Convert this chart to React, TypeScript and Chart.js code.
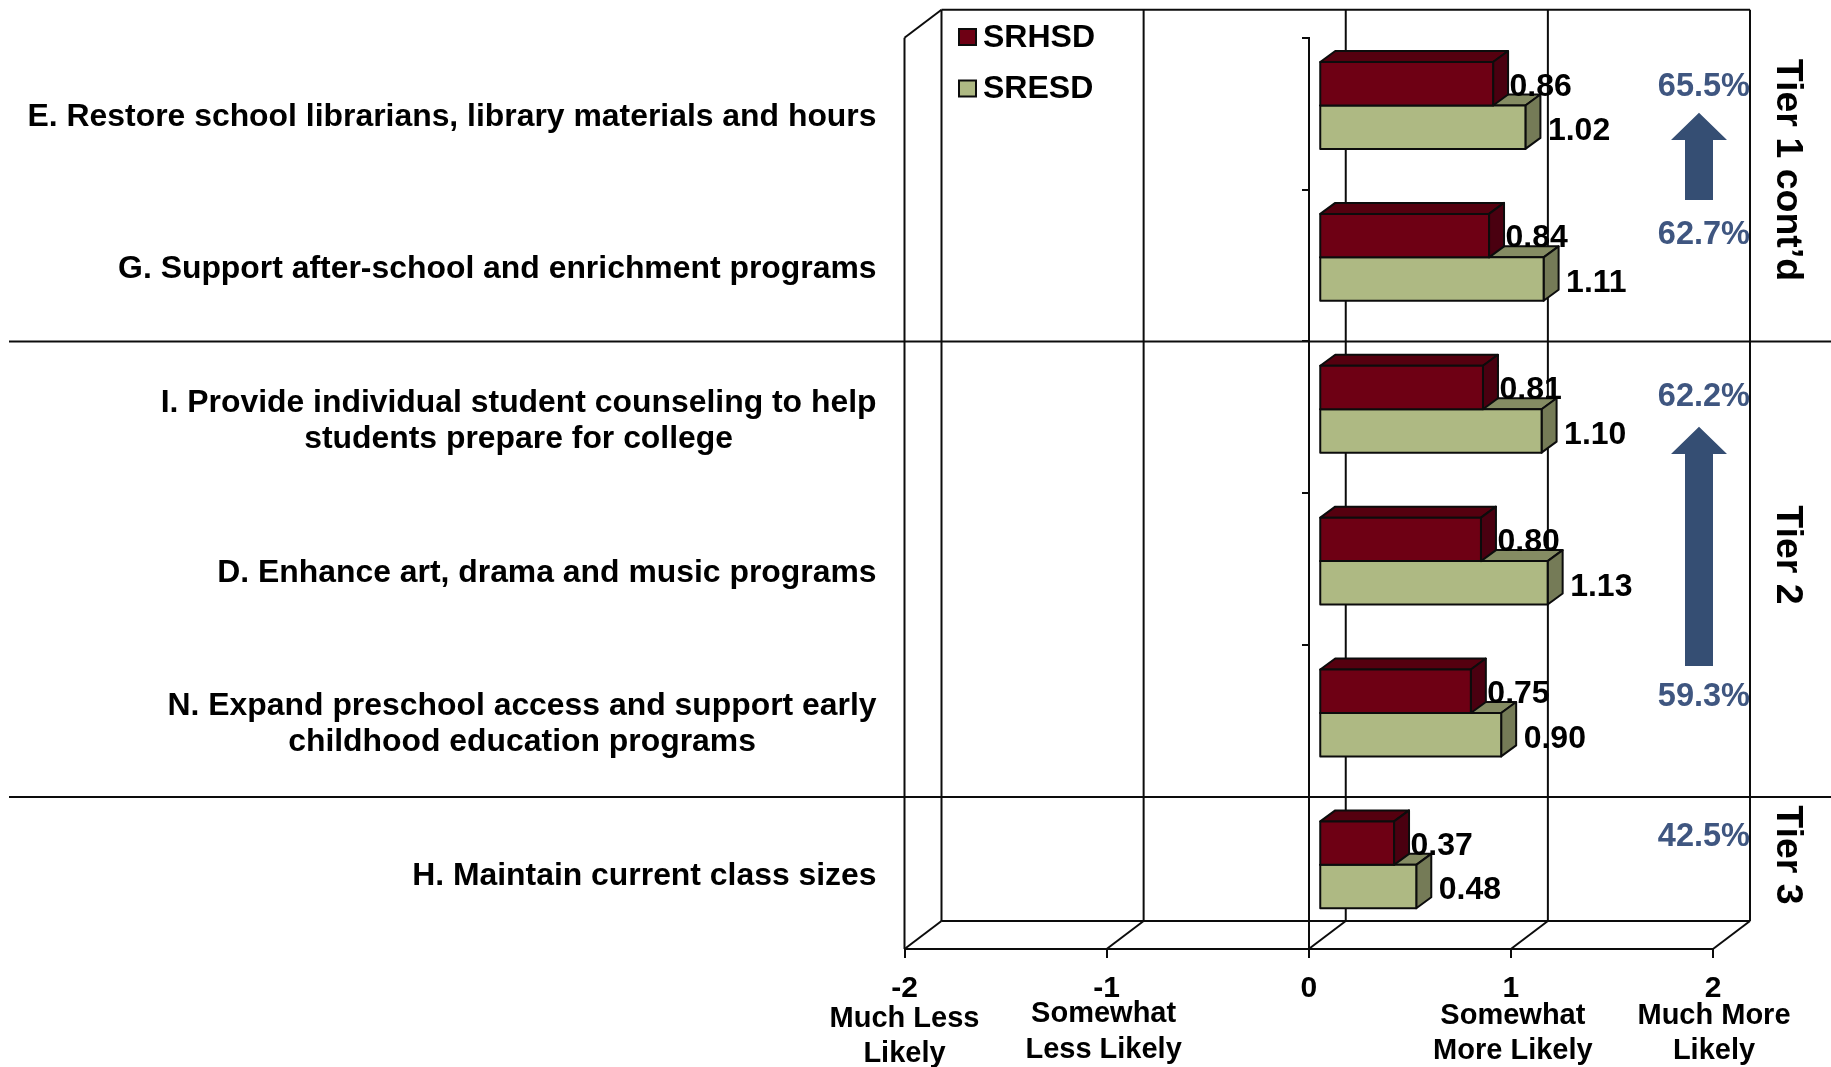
import React, { useEffect, useRef } from "react";
import { Chart, registerables } from "chart.js";

Chart.register(...registerables);

const FONT = '"Liberation Sans", Arial, sans-serif';

const categories: string[][] = [
  ["E. Restore school librarians, library materials and hours"],
  ["G. Support after-school and enrichment programs"],
  ["I. Provide individual student counseling to help", "students prepare for college"],
  ["D. Enhance art, drama and music programs"],
  ["N. Expand preschool access and support early", "childhood education programs"],
  ["H. Maintain current class sizes"],
];
const srhsd = [0.86, 0.84, 0.81, 0.8, 0.75, 0.37];
const sresd = [1.02, 1.11, 1.1, 1.13, 0.9, 0.48];
const percents = ["65.5%", "62.7%", "62.2%", "59.3%", "42.5%"];
const percentY = [87, 235, 397, 697, 837];
const tiers = ["Tier 1 cont\u2019d", "Tier 2", "Tier 3"];
const tierY = [170, 555, 855];
const axisNotes: { v: number; dx: number; lines: [string, number][] }[] = [
  { v: -2, dx: 0, lines: [["Much Less", 1019], ["Likely", 1054]] },
  { v: -1, dx: -3, lines: [["Somewhat", 1014], ["Less Likely", 1050]] },
  { v: 1, dx: 2, lines: [["Somewhat", 1016], ["More Likely", 1051]] },
  { v: 2, dx: 1, lines: [["Much More", 1016], ["Likely", 1051]] },
];

const BACK_DX = 37;
const BACK_DY = 28;
const BAR_DX = 10.5;
const BAR_DY = 8.2;
const DEPTH_DX = 15;
const DEPTH_DY = 11;
const INK = "#0C0C0C";
const shades = [
  { top: "#55000F", side: "#4A0010" },
  { top: "#858C63", side: "#757B57" },
];

const poly = (ctx: CanvasRenderingContext2D, pts: number[][], fill: string) => {
  ctx.beginPath();
  pts.forEach(([x, y], i) => (i ? ctx.lineTo(x, y) : ctx.moveTo(x, y)));
  ctx.closePath();
  ctx.fillStyle = fill;
  ctx.fill();
  ctx.lineWidth = 2;
  ctx.strokeStyle = INK;
  ctx.stroke();
};

const line = (ctx: CanvasRenderingContext2D, x1: number, y1: number, x2: number, y2: number) => {
  ctx.beginPath();
  ctx.moveTo(x1, y1);
  ctx.lineTo(x2, y2);
  ctx.stroke();
};

const threeD = {
  id: "threeD",
  beforeDatasetsDraw(chart: any) {
    const { ctx, chartArea: a, scales } = chart;
    const top = a.top;
    const bottom = a.bottom;
    ctx.save();
    ctx.strokeStyle = INK;
    ctx.lineWidth = 2;
    // walls
    line(ctx, a.left, top, a.left, bottom);
    line(ctx, a.left, top, a.left + BACK_DX, top - BACK_DY);
    line(ctx, a.left + BACK_DX, top - BACK_DY, a.right + BACK_DX, top - BACK_DY);
    line(ctx, a.left + BACK_DX, bottom - BACK_DY, a.right + BACK_DX, bottom - BACK_DY);
    scales.x.ticks.forEach((t: any) => {
      const x = scales.x.getPixelForValue(t.value);
      line(ctx, x + BACK_DX, top - BACK_DY, x + BACK_DX, bottom - BACK_DY);
      line(ctx, x, bottom, x + BACK_DX, bottom - BACK_DY);
    });
    ctx.restore();
  },
  beforeDatasetDraw(chart: any, args: any) {
    const { ctx } = chart;
    const meta = chart.getDatasetMeta(args.index);
    ctx.save();
    ctx.translate(BAR_DX, -BAR_DY);
    ctx.lineJoin = "round";
    meta.data.forEach((el: any) => {
      const { x, y, base, height } = el.getProps(["x", "y", "base", "height"], true);
      const t = y - height / 2;
      const b = y + height / 2;
      const s = shades[args.index];
      poly(ctx, [[base, t], [x, t], [x + DEPTH_DX, t - DEPTH_DY], [base + DEPTH_DX, t - DEPTH_DY]], s.top);
      poly(ctx, [[x, t], [x + DEPTH_DX, t - DEPTH_DY], [x + DEPTH_DX, b - DEPTH_DY], [x, b]], s.side);
    });
  },
  afterDatasetDraw(chart: any, args: any) {
    const { ctx } = chart;
    ctx.strokeStyle = INK;
    ctx.lineWidth = 2;
    chart.getDatasetMeta(args.index).data.forEach((el: any) => {
      const { x, y, base, height } = el.getProps(["x", "y", "base", "height"], true);
      ctx.strokeRect(base, y - height / 2, x - base, height);
    });
    ctx.restore();
  },
  afterDatasetsDraw(chart: any) {
    const { ctx, scales, data } = chart;
    const X = scales.x;
    const Y = scales.y;
    ctx.save();

    // value labels
    ctx.fillStyle = "#000";
    ctx.font = `bold 32px ${FONT}`;
    ctx.textAlign = "left";
    ctx.textBaseline = "middle";
    data.datasets.forEach((ds: any, d: number) => {
      chart.getDatasetMeta(d).data.forEach((el: any, i: number) => {
        const { x, y } = el.getProps(["x", "y"], true);
        const gap = d === 0 ? 1 : 7;
        ctx.fillText(ds.data[i].toFixed(2), x + 11 + DEPTH_DX + gap, y - BAR_DY + (d === 0 ? 3 : 4));
      });
    });

    // category labels: block right-aligned, lines centred inside the block
    ctx.font = `bold 31.9px ${FONT}`;
    ctx.textAlign = "center";
    (data.labels as string[][]).forEach((lines, i) => {
      const widest = Math.max(...lines.map((l) => ctx.measureText(l).width));
      const cx = 876.5 - widest / 2;
      const cy = Y.getPixelForTick(i);
      lines.forEach((l, k) => ctx.fillText(l, cx, cy + (k - (lines.length - 1) / 2) * 36 + 3.5));
    });

    // axis captions
    ctx.font = `bold 29px ${FONT}`;
    axisNotes.forEach((n) => {
      n.lines.forEach(([txt, y]) => ctx.fillText(txt, X.getPixelForValue(n.v) + n.dx, y));
    });

    // separators
    ctx.strokeStyle = INK;
    ctx.lineWidth = 2;
    [2, 5].forEach((i) => {
      const y = (Y.getPixelForTick(i - 1) + Y.getPixelForTick(i)) / 2;
      line(ctx, 9, y, chart.width, y);
    });

    // legend
    data.datasets.forEach((ds: any, d: number) => {
      const y = [37, 88.5][d];
      ctx.fillStyle = ds.backgroundColor;
      ctx.strokeStyle = INK;
      ctx.fillRect(959, y - 8, 17, 16);
      ctx.strokeRect(959, y - 8, 17, 16);
      ctx.fillStyle = "#000";
      ctx.textAlign = "left";
      ctx.font = `bold 32px ${FONT}`;
      ctx.fillText(ds.label, 983, y + 1);
    });

    // percentages
    ctx.fillStyle = "#3F5680";
    ctx.font = `bold 32.5px ${FONT}`;
    ctx.textAlign = "right";
    percents.forEach((p, i) => ctx.fillText(p, 1750, percentY[i]));

    // arrows
    ctx.fillStyle = "#354E73";
    [[112.7, 140, 200], [426.7, 454, 666]].forEach(([tip, neck, end]) => {
      ctx.beginPath();
      ctx.moveTo(1699, tip);
      ctx.lineTo(1727, neck);
      ctx.lineTo(1713, neck);
      ctx.lineTo(1713, end);
      ctx.lineTo(1685, end);
      ctx.lineTo(1685, neck);
      ctx.lineTo(1671, neck);
      ctx.closePath();
      ctx.fill();
    });

    // tiers
    ctx.fillStyle = "#000";
    ctx.font = `bold 37.5px ${FONT}`;
    ctx.textAlign = "center";
    tiers.forEach((t, i) => {
      ctx.save();
      ctx.translate(1787, tierY[i]);
      ctx.rotate(Math.PI / 2);
      ctx.fillText(t, 0, 0);
      ctx.restore();
    });
    ctx.restore();
  },
};

export default function App() {
  const ref = useRef<HTMLCanvasElement | null>(null);
  useEffect(() => {
    document.body.style.margin = "0";
    const chart = new Chart(ref.current as HTMLCanvasElement, {
      type: "bar",
      data: {
        labels: categories as any,
        datasets: [
          { label: "SRHSD", data: srhsd, backgroundColor: "#6E0014", borderWidth: 0, clip: false } as any,
          { label: "SRESD", data: sresd, backgroundColor: "#AEB983", borderWidth: 0, clip: false } as any,
        ],
      },
      plugins: [threeD as any],
      options: {
        indexAxis: "y",
        responsive: false,
        animation: false,
        layout: { padding: { left: 904.5, right: 118, top: 37.7, bottom: 58 } },
        datasets: { bar: { categoryPercentage: 0.572, barPercentage: 1 } },
        plugins: { legend: { display: false }, tooltip: { enabled: false }, title: { display: false } },
        scales: {
          x: {
            min: -2,
            max: 2,
            afterFit: (s: any) => {
              s.height = 60;
            },
            ticks: {
              stepSize: 1,
              maxRotation: 0,
              autoSkip: false,
              padding: 13,
              color: "#000",
              font: { family: FONT, size: 30, weight: "bold" },
            },
            grid: { drawOnChartArea: false, drawTicks: true, tickLength: 9, color: INK, lineWidth: 2 },
            border: { display: true, color: INK, width: 2 },
          },
          y: {
            position: { x: 0 } as any,
            ticks: { display: false },
            grid: { drawOnChartArea: false, drawTicks: true, tickLength: 6, color: INK, lineWidth: 2, offset: true },
            border: { display: true, color: INK, width: 2 },
          },
        },
      } as any,
    });
    return () => chart.destroy();
  }, []);
  return <canvas ref={ref} width={1831} height={1067} style={{ display: "block" }} />;
}
